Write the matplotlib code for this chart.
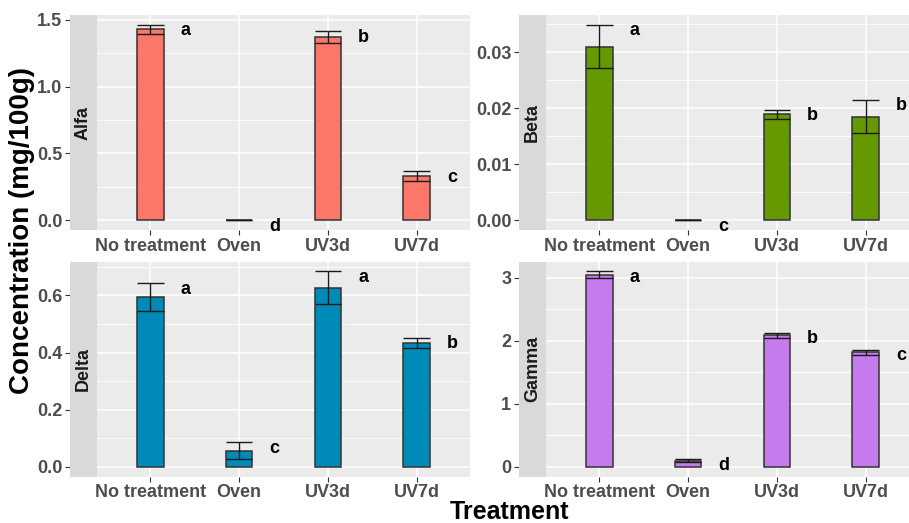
import matplotlib
matplotlib.use("Agg")
import matplotlib.pyplot as plt
import numpy as np

plt.rcParams['font.family'] = ['Liberation Sans', 'DejaVu Sans']

categories = ["No treatment", "Oven", "UV3d", "UV7d"]
panels = ["Alfa", "Beta", "Delta", "Gamma"]
colors = ["#FB776A", "#669900", "#008AB8", "#C57AEE"]

alfa_mean = [1.43, 0.0, 1.37, 0.33]
alfa_se = [0.033, 0.0, 0.045, 0.035]
beta_mean = [0.0310, 0.0, 0.0189, 0.0185]
beta_se = [0.0039, 0.0, 0.0008, 0.0030]
delta_mean = [0.593, 0.056, 0.627, 0.434]
delta_se = [0.049, 0.030, 0.057, 0.018]
gamma_mean = [3.045, 0.10, 2.085, 1.815]
gamma_se = [0.055, 0.025, 0.045, 0.040]

alfa_letters = ["a", "d", "b", "c"]
beta_letters = ["a", "c", "b", "b"]
delta_letters = ["a", "c", "a", "b"]
gamma_letters = ["a", "d", "b", "c"]

alfa_ticks = [0.0, 0.5, 1.0, 1.5]
beta_ticks = [0.00, 0.01, 0.02, 0.03]
delta_ticks = [0.0, 0.2, 0.4, 0.6]
gamma_ticks = [0, 1, 2, 3]
alfa_ticklabels = ["0.0", "0.5", "1.0", "1.5"]
beta_ticklabels = ["0.00", "0.01", "0.02", "0.03"]
delta_ticklabels = ["0.0", "0.2", "0.4", "0.6"]
gamma_ticklabels = ["0", "1", "2", "3"]

means = [alfa_mean, beta_mean, delta_mean, gamma_mean]
ses = [alfa_se, beta_se, delta_se, gamma_se]
letters = [alfa_letters, beta_letters, delta_letters, gamma_letters]
ticks = [alfa_ticks, beta_ticks, delta_ticks, gamma_ticks]
ticklabels = [alfa_ticklabels, beta_ticklabels, delta_ticklabels, gamma_ticklabels]

W, H = 909, 523
fig = plt.figure(figsize=(W / 100, H / 100), dpi=100)

panel_w = 373
panel_h = 215
strip_w = 27
lefts = [97, 546]
tops = [15, 261.7]

bar_w = 0.3
x = np.arange(1, 5)

for i in range(4):
    r, c = divmod(i, 2)
    lx = lefts[c]
    ty = tops[r]
    ax = fig.add_axes([lx / W, (H - ty - panel_h) / H, panel_w / W, panel_h / H])
    sax = fig.add_axes([(lx - strip_w) / W, (H - ty - panel_h) / H, strip_w / W, panel_h / H])
    sax.set_facecolor("#D9D9D9")
    sax.set_xticks([]); sax.set_yticks([])
    for s in sax.spines.values():
        s.set_visible(False)
    sax.text(0.5, 0.5, panels[i], rotation=90, ha="center", va="center",
             fontsize=13, fontweight="bold", color="#1A1A1A", transform=sax.transAxes)

    ax.set_facecolor("#EBEBEB")
    m = np.array(means[i]); e = np.array(ses[i])
    top = (m + e).max()

    tk = ticks[i]
    step = tk[1] - tk[0]
    minors = [t + step / 2 for t in [tk[0] - step] + list(tk)]
    ax.set_yticks(tk)
    ax.set_yticklabels(ticklabels[i])
    ax.set_yticks(minors, minor=True)
    ax.set_xticks(x)
    ax.set_xticklabels(categories)
    ax.grid(which="major", color="white", linewidth=1.1)
    ax.grid(which="minor", axis="y", color="white", linewidth=0.55)
    ax.set_axisbelow(True)
    for s in ax.spines.values():
        s.set_visible(False)
    ax.spines['left'].set_position(('outward', strip_w * 0.72))
    ax.tick_params(axis="y", which="minor", length=0)
    ax.tick_params(axis="both", which="major", length=3.5, width=0.8, color="#333333",
                   labelsize=13, labelcolor="#4D4D4D", pad=2)
    for lab in ax.get_xticklabels() + ax.get_yticklabels():
        lab.set_fontweight("bold")

    ax.bar(x, m, width=bar_w, color=colors[i], edgecolor="#333333", linewidth=1.1, zorder=2)
    ax.vlines(x, m - e, m + e, color="#1A1A1A", linewidth=1.0, zorder=3)
    ax.hlines(m - e, x - bar_w / 2, x + bar_w / 2, color="#1A1A1A", linewidth=1.0, zorder=3)
    ax.hlines(m + e, x - bar_w / 2, x + bar_w / 2, color="#1A1A1A", linewidth=1.0, zorder=3)
    for xi, yi, lt in zip(x, m + e, letters[i]):
        ax.annotate(lt, (xi + 0.4, yi), xytext=(0, -4.3), textcoords="offset points",
                    ha="center", va="center", fontsize=13,
                    fontweight="bold", color="black", zorder=4)

    ax.set_xlim(0.4, 4.6)
    ax.set_ylim(-0.05 * top, top * 1.05)

fig.text(22 / W, 1 - 230 / H, "Concentration (mg/100g)", rotation=90, ha="center",
         va="center", fontsize=20, fontweight="bold", color="black")
fig.text(509 / W, 1 - 512 / H, "Treatment", ha="center", va="center",
         fontsize=18, fontweight="bold", color="black")

fig.savefig("out.png", dpi=100)
